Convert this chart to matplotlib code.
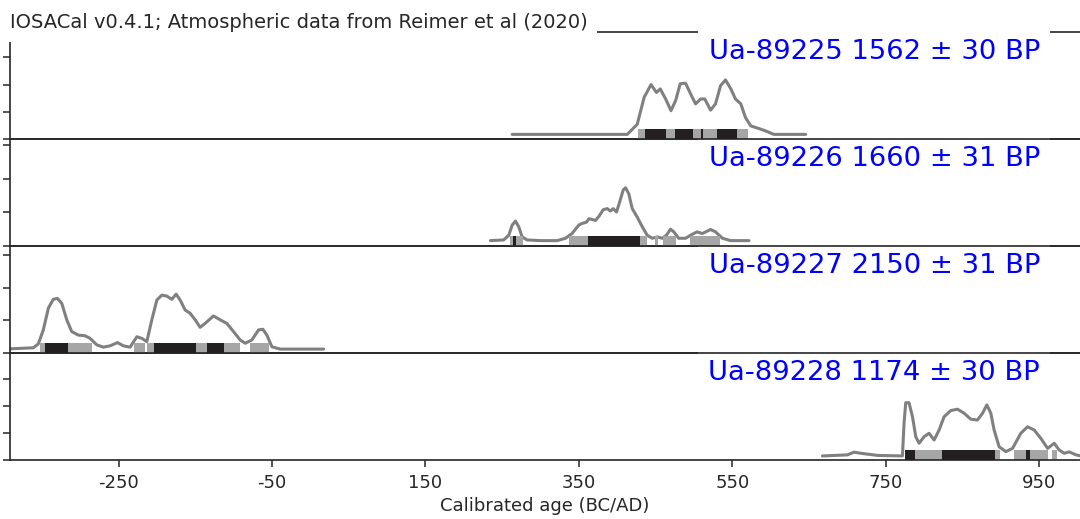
import matplotlib
matplotlib.use('Agg')
import matplotlib.pyplot as plt

plt.rcParams.update({
    'font.family': ['DejaVu Sans'],
    'font.size': 13,
    'axes.unicode_minus': False,
    'text.color': '#262626',
    'axes.labelcolor': '#262626',
    'xtick.color': '#262626',
    'ytick.color': '#262626',
})

# calibrated curves (year, density in 1e-3 units)
yr1 = [263, 413, 426, 435, 444, 451, 456, 463, 470, 476, 482, 489, 495.5, 502, 508.6,
       514, 521.6, 528, 534.6, 541, 548, 554, 561, 567, 574, 585, 593, 604, 645.5]
pd1 = [0.17, 0.17, 0.54, 1.53, 2.0, 1.71, 1.84, 1.47, 1.04, 1.41, 2.03, 2.05, 1.66, 1.29,
       1.47, 1.47, 1.06, 1.29, 1.96, 2.17, 1.84, 1.47, 1.29, 0.79, 0.48, 0.38, 0.30, 0.17, 0.17]

yr2 = [234.7, 252, 258.6, 263, 267.3, 271.6, 276, 282.5, 300, 321.7, 332.5, 341, 349.8,
       354, 360, 363, 367, 371.6, 376, 381.7, 387, 391, 394.7, 399, 403, 407.8, 410.8,
       415, 419.5, 426, 432.6, 439, 445.6, 452, 458.6, 464, 469.4, 473.7, 480, 489,
       497.7, 504, 510.8, 521.6, 528, 537, 547.7, 571.6]
pd2 = [0.16, 0.18, 0.32, 0.62, 0.74, 0.57, 0.27, 0.18, 0.16, 0.16, 0.23, 0.37, 0.62,
       0.67, 0.71, 0.81, 0.79, 0.76, 0.88, 1.08, 1.11, 1.04, 1.11, 1.01, 1.30, 1.67, 1.73,
       1.55, 1.11, 0.86, 0.57, 0.32, 0.23, 0.27, 0.23, 0.32, 0.50, 0.42, 0.23, 0.23,
       0.35, 0.42, 0.37, 0.49, 0.42, 0.23, 0.16, 0.16]

yr3 = [-400, -361, -354.5, -348, -341.4, -335, -329.7, -324, -317.4, -311, -302.3, -293.6,
       -287, -278.3, -269.7, -261, -251.4, -243.6, -234.9, -226.1, -219.6, -213.1, -206.6,
       -200, -193.5, -187, -180.5, -174.9, -169.7, -163.1, -156.6, -150.1, -143.6, -137.1,
       -126.2, -117.5, -108.8, -100.2, -91.4, -84.9, -76.2, -67.5, -61.8, -56.6, -50.1,
       -39.2, 17.2]
pd3 = [0.12, 0.16, 0.28, 0.71, 1.38, 1.65, 1.68, 1.53, 1.02, 0.66, 0.55, 0.53, 0.45, 0.25,
       0.18, 0.22, 0.32, 0.22, 0.18, 0.50, 0.45, 0.35, 1.02, 1.63, 1.78, 1.75, 1.65, 1.81,
       1.63, 1.32, 1.22, 1.02, 0.79, 0.91, 1.14, 1.02, 0.91, 0.66, 0.40, 0.30, 0.40, 0.71,
       0.73, 0.55, 0.19, 0.12, 0.12]

yr4 = [667.3, 699.9, 708.5, 717.3, 739, 771.6, 773.7, 775.9, 780.2, 784.7, 789, 793.3,
       799.8, 806.3, 812.9, 819.4, 825.9, 834.6, 843.4, 852, 860.7, 869.4, 876, 881.6,
       886.8, 891.1, 897.6, 906.4, 915.1, 925.9, 934.7, 943.3, 952, 960.8, 969.4, 975.9,
       982.4, 989, 997.7, 1004.2, 1015]
pd4 = [0.15, 0.19, 0.29, 0.25, 0.17, 0.15, 1.36, 2.12, 2.12, 1.60, 0.86, 0.62, 0.86, 0.99,
       0.74, 1.11, 1.60, 1.83, 1.88, 1.73, 1.51, 1.48, 1.73, 2.04, 1.73, 1.11, 0.49, 0.31,
       0.43, 0.99, 1.23, 1.11, 0.80, 0.43, 0.62, 0.37, 0.25, 0.30, 0.19, 0.15, 0.15]

# HPD intervals: 95% (gray) and 68% (black)
hpd95_1 = [(426.8, 570.8)]
hpd68_1 = [(435.5, 463.8), (474.6, 498.1), (508.6, 511.2), (529.4, 555.5)]
hpd95_2 = [(259.8, 277.3), (336.8, 439), (449.5, 452.9), (459.4, 476.9), (494.2, 533.3)]
hpd68_2 = [(264.2, 268.5), (361.2, 429)]
hpd95_3 = [(-352.3, -284.8), (-229.3, -215.3), (-212.3, -91.4), (-78.4, -53.6)]
hpd68_3 = [(-345.8, -315.4), (-203.6, -148.8), (-134.8, -112.3)]
hpd95_4 = [(775, 898.6), (916.4, 961.6), (966, 972.9)]
hpd68_4 = [(775, 787.7), (822.9, 892), (932.8, 937.7)]

labels = ['Ua-89225 1562 ± 30 BP', 'Ua-89226 1660 ± 31 BP',
          'Ua-89227 2150 ± 31 BP', 'Ua-89228 1174 ± 30 BP']
ytops = [3.93, 3.18, 3.29, 3.96]
xticks = [-250, -50, 150, 350, 550, 750, 950]

curves = [(yr1, pd1), (yr2, pd2), (yr3, pd3), (yr4, pd4)]
hpd95 = [hpd95_1, hpd95_2, hpd95_3, hpd95_4]
hpd68 = [hpd68_1, hpd68_2, hpd68_3, hpd68_4]

fig = plt.figure(figsize=(10.8, 5.19), dpi=100)
left, right = 10 / 1080, 1.0
bot, top = 1 - 460 / 519, 1 - 32 / 519
h = (top - bot) / 4

axes = []
for i in range(4):
    ax = fig.add_axes([left, top - (i + 1) * h, right - left, h])
    ax.set_zorder(10 - i)
    ax.patch.set_alpha(0)
    (xs, ys) = curves[i]
    ax.plot(xs, ys, color='#808080', lw=2.2, zorder=1,
            solid_capstyle='round', solid_joinstyle='round')
    for a, b in hpd95[i]:
        ax.axvspan(a, b, ymin=0, ymax=0.094, color='#a6a6a6', lw=0, zorder=2)
    for a, b in hpd68[i]:
        ax.axvspan(a, b, ymin=0, ymax=0.094, color='#231f20', lw=0, zorder=3)
    ax.set_xlim(-391.4, 1003)
    ax.set_ylim(0, ytops[i])
    ax.set_yticks([0, 1, 2, 3])
    ax.set_yticklabels([])
    ax.spines['right'].set_visible(False)
    for s in ['left', 'top', 'bottom']:
        ax.spines[s].set_color('#262626')
        ax.spines[s].set_linewidth(1.2)
    ax.tick_params(axis='y', length=5, width=1.1, direction='out')
    ax.tick_params(axis='x', length=5, width=1.1, direction='out', pad=5, labelsize=13)
    ax.set_xticks(xticks)
    if i < 3:
        ax.set_xticklabels([])
        ax.tick_params(axis='x', length=0)
    ax.text(0.9626, 0.93, labels[i], transform=ax.transAxes, ha='right', va='top',
            color='#0000ff', fontsize=19.7, zorder=5,
            bbox=dict(boxstyle='square,pad=0.38', fc='white', ec='none'))
    axes.append(ax)

axes[-1].set_xlabel('Calibrated age (BC/AD)', fontsize=13, labelpad=4)

fig.text(10 / 1080, 1 - 28 / 519, 'IOSACal v0.4.1; Atmospheric data from Reimer et al (2020)',
         fontsize=14, va='baseline', ha='left', zorder=20,
         bbox=dict(boxstyle='square,pad=0.5', fc='white', ec='none'))

fig.savefig('out.png', dpi=100)
